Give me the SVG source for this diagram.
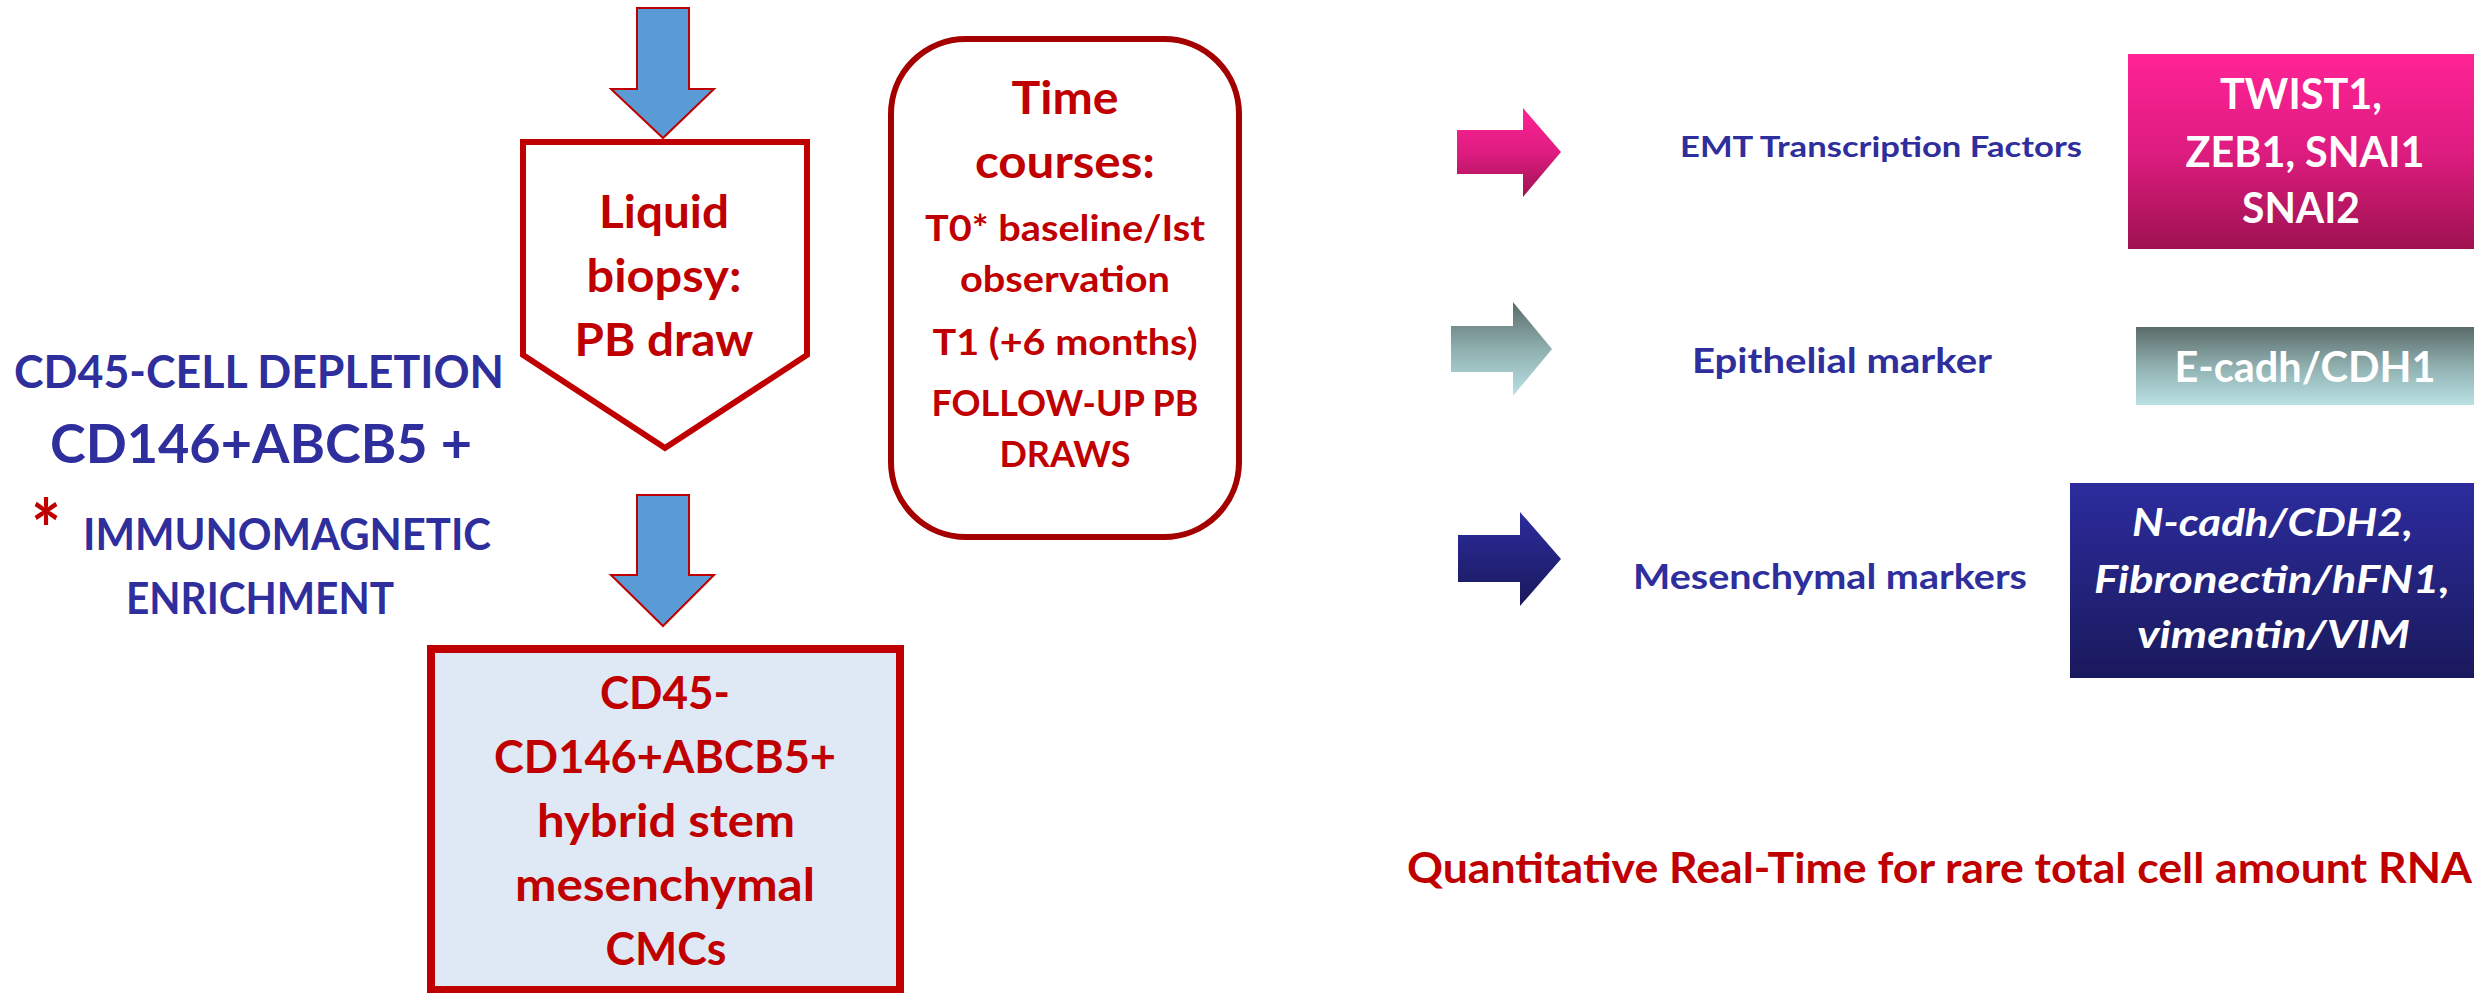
<svg xmlns="http://www.w3.org/2000/svg" width="2486" height="993" viewBox="0 0 2486 993">
<defs>
<linearGradient id="gPink" x1="0" y1="0" x2="0" y2="1"><stop offset="0" stop-color="#FF2396"/><stop offset="0.5" stop-color="#DE1C80"/><stop offset="1" stop-color="#9E1250"/></linearGradient>
<linearGradient id="gTeal" x1="0" y1="0" x2="0" y2="1"><stop offset="0" stop-color="#5A6B69"/><stop offset="0.5" stop-color="#8FAFAF"/><stop offset="1" stop-color="#B9E1E4"/></linearGradient>
<linearGradient id="gNavy" x1="0" y1="0" x2="0" y2="1"><stop offset="0" stop-color="#2C2C9E"/><stop offset="1" stop-color="#1A195C"/></linearGradient>
<style>
.t{font-family:Lato,"Liberation Sans",sans-serif;font-weight:bold}
.red{fill:#C00000}
.blue{fill:#2E2E9C}
.wh{fill:#FFFFFF}
.it{font-style:italic}
.mid{text-anchor:middle}
.darr{fill:#5B9BD5;stroke:#C00000;stroke-width:2}
</style>
</defs>

<g id="connectors">
<polygon class="darr" points="637,8 689,8 689,89 714,89 663,138 611,89 637,89"/>
<polygon class="darr" points="637,495 689,495 689,575 714,575 663,626 611,575 637,575"/>
<polygon fill="url(#gPink)" points="1457,130 1523,130 1523,108 1561,152 1523,197 1523,174 1457,174"/>
<polygon fill="url(#gTeal)" points="1451,326 1513,326 1513,302 1552,349 1513,396 1513,372 1451,372"/>
<polygon fill="url(#gNavy)" points="1458,535 1520,535 1520,512 1561,559 1520,606 1520,582 1458,582"/>
</g>

<g id="enrichment-label">
<text class="t blue" x="14" y="388" font-size="45" textLength="490" lengthAdjust="spacingAndGlyphs">CD45-CELL DEPLETION</text>
<text class="t blue" x="50" y="463" font-size="54" textLength="422" lengthAdjust="spacingAndGlyphs">CD146+ABCB5 +</text>
<text class="t red" x="31" y="560" font-size="83" textLength="30" lengthAdjust="spacingAndGlyphs">*</text>
<text class="t blue" x="83" y="550" font-size="43" textLength="408" lengthAdjust="spacingAndGlyphs">IMMUNOMAGNETIC</text>
<text class="t blue" x="126" y="614" font-size="43" textLength="268" lengthAdjust="spacingAndGlyphs">ENRICHMENT</text>
</g>

<g id="liquid-biopsy">
<polygon points="523,142 807,142 807,355 665,448 523,355" fill="#FFFFFF" stroke="#C00000" stroke-width="6"/>
<text class="t red mid" x="664" y="228" font-size="46" textLength="130" lengthAdjust="spacingAndGlyphs">Liquid</text>
<text class="t red mid" x="664" y="292" font-size="46" textLength="155" lengthAdjust="spacingAndGlyphs">biopsy:</text>
<text class="t red mid" x="664" y="356" font-size="46" textLength="179" lengthAdjust="spacingAndGlyphs">PB draw</text>
</g>

<g id="cmc-box">
<rect x="431" y="649" width="469" height="341" fill="#DEE9F5" stroke="#C00000" stroke-width="8"/>
<text class="t red mid" x="665" y="709" font-size="46" textLength="130" lengthAdjust="spacingAndGlyphs">CD45-</text>
<text class="t red mid" x="665" y="773" font-size="46" textLength="342" lengthAdjust="spacingAndGlyphs">CD146+ABCB5+</text>
<text class="t red mid" x="666" y="837" font-size="46" textLength="258" lengthAdjust="spacingAndGlyphs">hybrid stem</text>
<text class="t red mid" x="665" y="901" font-size="46" textLength="300" lengthAdjust="spacingAndGlyphs">mesenchymal</text>
<text class="t red mid" x="666" y="965" font-size="46" textLength="121" lengthAdjust="spacingAndGlyphs">CMCs</text>
</g>

<g id="time-courses">
<rect x="891" y="39" width="348" height="498" rx="75" ry="75" fill="#FFFFFF" stroke="#A50000" stroke-width="6"/>
<text class="t red mid" x="1065" y="114" font-size="46" textLength="107" lengthAdjust="spacingAndGlyphs">Time</text>
<text class="t red mid" x="1065" y="178" font-size="46" textLength="180" lengthAdjust="spacingAndGlyphs">courses:</text>
<text class="t red mid" x="1065" y="241" font-size="36" textLength="280" lengthAdjust="spacingAndGlyphs">T0* baseline/Ist</text>
<text class="t red mid" x="1065" y="292" font-size="36" textLength="210" lengthAdjust="spacingAndGlyphs">observation</text>
<text class="t red mid" x="1065" y="355" font-size="36" textLength="265" lengthAdjust="spacingAndGlyphs">T1 (+6 months)</text>
<text class="t red mid" x="1065" y="416" font-size="36" textLength="267" lengthAdjust="spacingAndGlyphs">FOLLOW-UP PB</text>
<text class="t red mid" x="1065" y="467" font-size="36" textLength="131" lengthAdjust="spacingAndGlyphs">DRAWS</text>
</g>

<g id="emt-label">
<text class="t blue" x="1680" y="157" font-size="29" textLength="402" lengthAdjust="spacingAndGlyphs">EMT Transcription Factors</text>
</g>
<g id="emt-box">
<rect x="2128" y="54" width="346" height="195" fill="url(#gPink)"/>
<text class="t wh mid" x="2301" y="109" font-size="42" textLength="162" lengthAdjust="spacingAndGlyphs">TWIST1,</text>
<text class="t wh mid" x="2305" y="167" font-size="42" textLength="239" lengthAdjust="spacingAndGlyphs">ZEB1, SNAI1</text>
<text class="t wh mid" x="2301" y="223" font-size="42" textLength="118" lengthAdjust="spacingAndGlyphs">SNAI2</text>
</g>

<g id="epithelial-label">
<text class="t blue" x="1692" y="373" font-size="35" textLength="300" lengthAdjust="spacingAndGlyphs">Epithelial marker</text>
</g>
<g id="epithelial-box">
<rect x="2136" y="327" width="338" height="78" fill="url(#gTeal)"/>
<text class="t wh mid" x="2305" y="382" font-size="42" textLength="261" lengthAdjust="spacingAndGlyphs">E-cadh/CDH1</text>
</g>

<g id="mesenchymal-label">
<text class="t blue" x="1633" y="589" font-size="35" textLength="394" lengthAdjust="spacingAndGlyphs">Mesenchymal markers</text>
</g>
<g id="mesenchymal-box">
<rect x="2070" y="483" width="404" height="195" fill="url(#gNavy)"/>
<text class="t wh it" x="2132" y="536" font-size="38" textLength="281" lengthAdjust="spacingAndGlyphs">N-cadh/CDH2,</text>
<text class="t wh it" x="2094" y="593" font-size="38" textLength="356" lengthAdjust="spacingAndGlyphs">Fibronectin/hFN1,</text>
<text class="t wh it" x="2137" y="648" font-size="38" textLength="273" lengthAdjust="spacingAndGlyphs">vimentin/VIM</text>
</g>

<g id="qrt-label">
<text class="t red" x="1407" y="883" font-size="42" textLength="1065" lengthAdjust="spacingAndGlyphs">Quantitative Real-Time for rare total cell amount RNA</text>
</g>
</svg>
